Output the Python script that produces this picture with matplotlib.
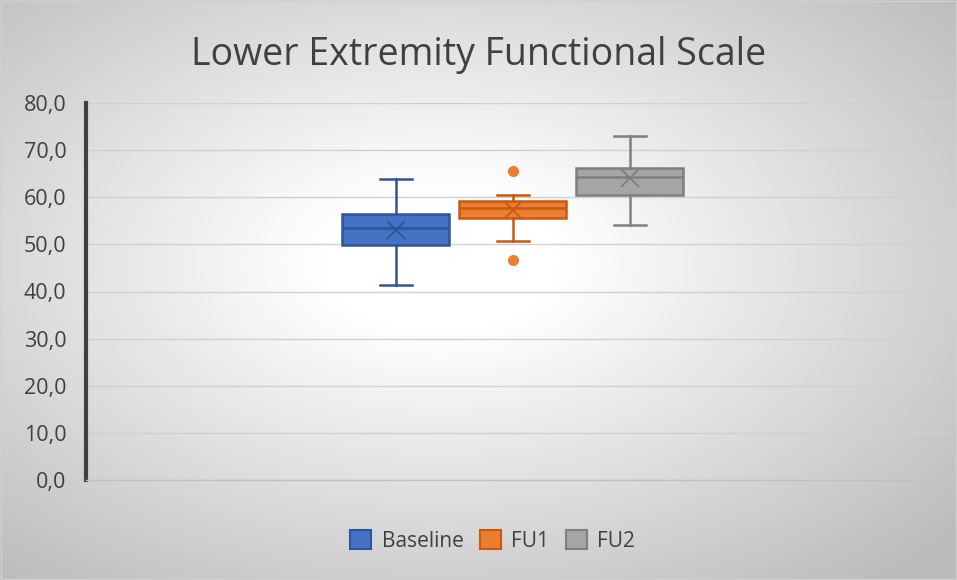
import numpy as np
import matplotlib.pyplot as plt

plt.rcParams['font.family'] = ['Open Sans', 'DejaVu Sans']

# box statistics
groups = ["Baseline", "FU1", "FU2"]
whislo = [41.3, 50.8, 54.1]
q1 = [49.9, 55.6, 60.5]
med = [53.4, 57.7, 64.2]
q3 = [56.5, 59.3, 66.2]
whishi = [63.9, 60.4, 73.0]
means = [53.1, 57.2, 64.0]
fliers = [[], [65.6, 46.7], []]

fill = ["#4472C4", "#ED7D31", "#A5A5A5"]
edge = ["#2F5597", "#C55A11", "#7F7F7F"]

fig = plt.figure(figsize=(9.57, 5.8), dpi=100)

# radial gradient background (white centre, light grey edges)
bg = fig.add_axes([0, 0, 1, 1], zorder=-10)
yy, xx = np.mgrid[-1:1:300j, -1:1:480j]
r = np.sqrt((xx + 0.08)**2 + (yy + 0.1)**2)
g = 1 - 0.19 * np.clip((r - 0.25) / 0.85, 0, 1.4)
bg.imshow(np.dstack([g, g, g]), aspect="auto", extent=[0, 1, 0, 1])
bg.axis("off")
fig.patches.append(plt.Rectangle((0.001, 0.001), 0.998, 0.998, transform=fig.transFigure,
                                 fill=False, edgecolor="#d0d0d0", lw=1))

ax = fig.add_axes([86/957, 100/580, 864/957, 377/580])
ax.patch.set_alpha(0)

stats = []
for i in range(3):
    stats.append(dict(whislo=whislo[i], q1=q1[i], med=med[i], q3=q3[i],
                      whishi=whishi[i], mean=means[i], fliers=fliers[i], label=groups[i]))

pos = [-1, 0, 1]
for i in range(3):
    ax.bxp([stats[i]], positions=[pos[i]], widths=0.915, patch_artist=True,
           showmeans=True, manage_ticks=False,
           boxprops=dict(facecolor=fill[i], edgecolor=edge[i], lw=1.8),
           medianprops=dict(color=edge[i], lw=1.8),
           whiskerprops=dict(color=edge[i], lw=1.8),
           capprops=dict(color=edge[i], lw=1.8),
           capwidths=0.27,
           meanprops=dict(marker="x", markeredgecolor=edge[i], markersize=13, mew=1.3),
           flierprops=dict(marker="o", markerfacecolor=fill[i], markeredgecolor=fill[i],
                           markersize=7))

ax.set_xlim(-3.648, 3.737)
ax.set_ylim(0, 80)
ax.set_yticks(np.arange(0, 81, 10))
ax.set_yticklabels([f"{v},0" for v in range(0, 81, 10)], fontsize=15.5, color="#404040")
ax.set_xticks([])
ax.grid(axis="y", color="#d0d0d0", lw=1)
ax.set_axisbelow(True)
ax.tick_params(axis="y", length=0, pad=14)
for s in ["top", "right"]:
    ax.spines[s].set_visible(False)
ax.spines["left"].set_color("#404040")
ax.spines["left"].set_linewidth(3)
ax.spines["bottom"].set_color("#c0c0c0")
ax.spines["bottom"].set_linewidth(1)

fig.text(0.5, 0.905, "Lower Extremity Functional Scale", ha="center", va="center",
         fontsize=27, color="#404040")

handles = [plt.Rectangle((0, 0), 1, 1, facecolor=fill[i], edgecolor=edge[i], lw=1.5)
           for i in range(3)]
fig.legend(handles, groups, loc="center", bbox_to_anchor=(0.515, 0.067), ncol=3,
           frameon=False, fontsize=15, labelcolor="#404040", handlelength=1.0,
           handleheight=1.0, columnspacing=0.8, handletextpad=0.5)

plt.savefig("out.png", dpi=100)
